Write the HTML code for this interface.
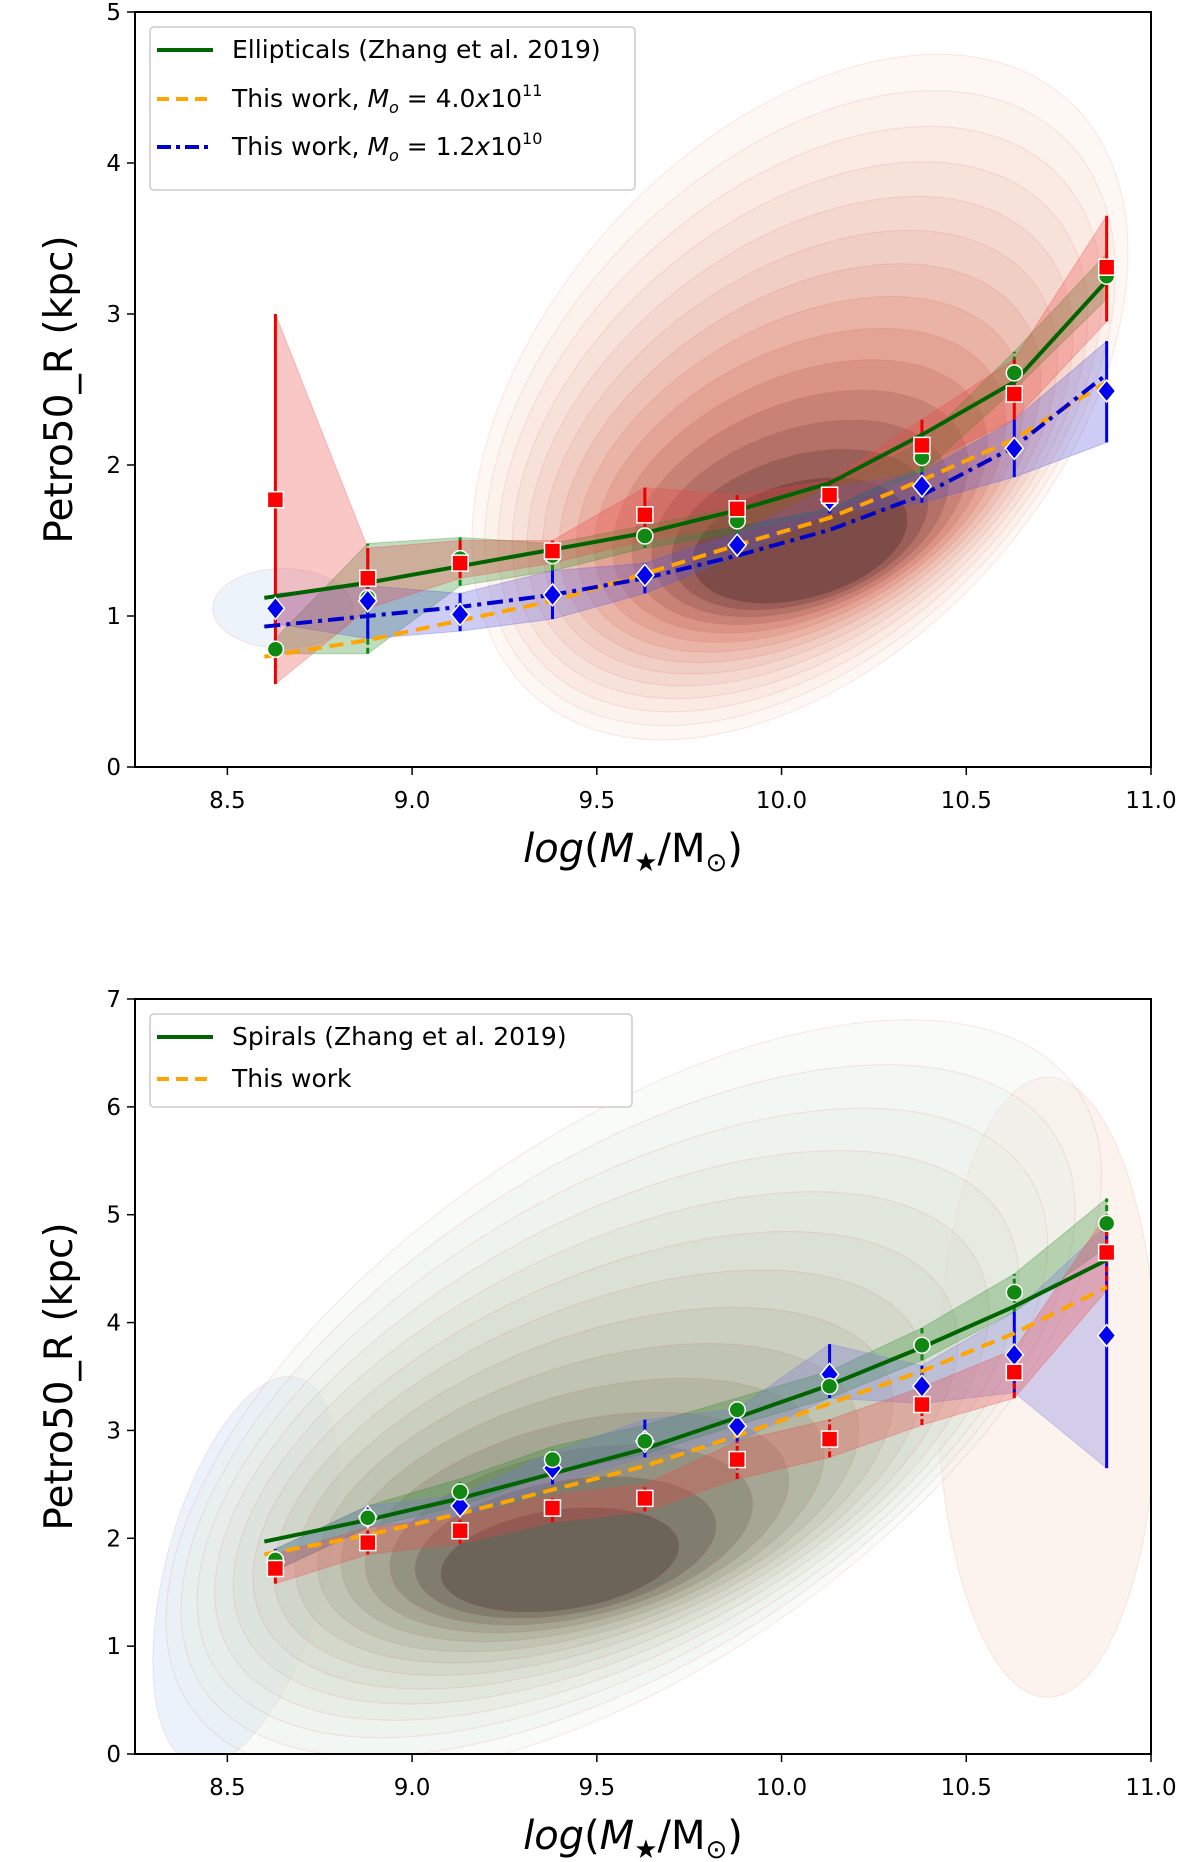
<!DOCTYPE html>
<html><head><meta charset="utf-8">
<style>
html,body{margin:0;padding:0;background:#fff;}
svg{display:block;font-family:"DejaVu Sans","Liberation Sans",sans-serif;}
</style></head>
<body>
<svg id="fig" width="1200" height="1862" viewBox="0 0 1200 1862" xmlns="http://www.w3.org/2000/svg">
<defs>
<clipPath id="clipTop"><rect x="135" y="12" width="1016" height="755"/></clipPath>
<clipPath id="clipBot"><rect x="135" y="999" width="1016" height="755"/></clipPath>
</defs>
<g id="top"></g>
<g id="bot"></g>
</svg>
<script>
// ---------- shared x data ----------
const xBins = [8.63, 8.88, 9.13, 9.38, 9.63, 9.88, 10.13, 10.38, 10.63, 10.88];
const xTicks = [8.5, 9.0, 9.5, 10.0, 10.5, 11.0];
const xTickLabels = ["8.5", "9.0", "9.5", "10.0", "10.5", "11.0"];
// ---------- top panel (ellipticals) ----------
const topYTicks = [0, 1, 2, 3, 4, 5];
const topLineX = [8.6, 8.88, 9.13, 9.38, 9.63, 9.88, 10.13, 10.38, 10.63, 10.88];
const topZhang = [1.12, 1.22, 1.33, 1.44, 1.55, 1.70, 1.88, 2.20, 2.55, 3.22];
const topWorkA = [0.73, 0.84, 0.97, 1.10, 1.28, 1.47, 1.65, 1.90, 2.17, 2.55];
const topWorkB = [0.93, 1.00, 1.06, 1.14, 1.25, 1.40, 1.57, 1.80, 2.12, 2.60];
const topRed = [1.77, 1.25, 1.35, 1.43, 1.67, 1.71, 1.80, 2.13, 2.47, 3.31];
const topRedLo = [0.55, 1.05, 1.25, 1.35, 1.50, 1.60, 1.72, 2.00, 2.30, 2.95];
const topRedHi = [3.00, 1.45, 1.50, 1.50, 1.85, 1.80, 1.90, 2.30, 2.70, 3.65];
const topGreen = [0.78, 1.12, 1.38, 1.40, 1.53, 1.63, 1.77, 2.05, 2.61, 3.25];
const topGreenLo = [0.75, 0.75, 1.20, 1.30, 1.45, 1.55, 1.70, 1.95, 2.50, 3.10];
const topGreenHi = [0.85, 1.48, 1.52, 1.48, 1.60, 1.72, 1.85, 2.15, 2.75, 3.40];
const topBlue = [1.05, 1.10, 1.01, 1.14, 1.27, 1.47, 1.77, 1.86, 2.11, 2.49];
const topBlueLo = [0.95, 0.85, 0.90, 0.98, 1.15, 1.40, 1.68, 1.75, 1.92, 2.15];
const topBlueHi = [1.15, 1.20, 1.15, 1.30, 1.35, 1.55, 1.85, 1.95, 2.30, 2.82];
// ---------- bottom panel (spirals) ----------
const botYTicks = [0, 1, 2, 3, 4, 5, 6, 7];
const botLineX = [8.6, 8.88, 9.13, 9.38, 9.63, 9.88, 10.13, 10.38, 10.63, 10.88];
const botZhang = [1.97, 2.17, 2.37, 2.60, 2.83, 3.12, 3.42, 3.77, 4.15, 4.58];
const botWork = [1.85, 2.03, 2.23, 2.45, 2.67, 2.95, 3.25, 3.55, 3.90, 4.33];
const botRed = [1.72, 1.96, 2.07, 2.28, 2.37, 2.73, 2.92, 3.24, 3.54, 4.65];
const botRedLo = [1.58, 1.85, 1.95, 2.15, 2.25, 2.55, 2.75, 3.05, 3.30, 4.30];
const botRedHi = [1.85, 2.10, 2.20, 2.40, 2.50, 2.90, 3.10, 3.40, 3.75, 5.00];
const botGreen = [1.80, 2.19, 2.43, 2.73, 2.90, 3.19, 3.41, 3.79, 4.28, 4.92];
const botGreenLo = [1.70, 2.10, 2.30, 2.60, 2.78, 3.05, 3.30, 3.65, 4.10, 4.70];
const botGreenHi = [1.90, 2.30, 2.55, 2.85, 3.05, 3.30, 3.55, 3.95, 4.45, 5.15];
const botBlue = [1.78, 2.20, 2.30, 2.65, 2.90, 3.04, 3.52, 3.41, 3.70, 3.88];
const botBlueLo = [1.70, 2.10, 2.20, 2.50, 2.75, 2.90, 3.30, 3.25, 3.35, 2.65];
const botBlueHi = [1.90, 2.30, 2.40, 2.80, 3.10, 3.20, 3.80, 3.60, 4.10, 4.90];

const NS = "http://www.w3.org/2000/svg";
function mk(tag, attrs, parent) {
  const e = document.createElementNS(NS, tag);
  for (const k in attrs) e.setAttribute(k, attrs[k]);
  parent.appendChild(e);
  return e;
}
const X0 = 135, X1 = 1151, XMIN = 8.25, XMAX = 11.0;
function sx(v) { return X0 + (v - XMIN) / (XMAX - XMIN) * (X1 - X0); }
function makeSY(top, bot, ymax) { return v => bot - v / ymax * (bot - top); }

function lerp(a, b, t) { return a + (b - a) * t; }
function color3(c1, cm, c2, t) {
  const a = t < 0.5 ? c1 : cm, b = t < 0.5 ? cm : c2, u = t < 0.5 ? t * 2 : (t - 0.5) * 2;
  return `rgb(${Math.round(lerp(a[0], b[0], u))},${Math.round(lerp(a[1], b[1], u))},${Math.round(lerp(a[2], b[2], u))})`;
}
function drawDensity(g, sy, outer, inner, cOut, cMid, cIn, n, op) {
  for (let i = 0; i < n; i++) {
    const t = n > 1 ? i / (n - 1) : 0;
    const tc = Math.pow(t, 1.5);
    const cx = sx(lerp(outer[0], inner[0], t)), cy = sy(lerp(outer[1], inner[1], t));
    const rx = lerp(outer[2], inner[2], t), ry = lerp(outer[3], inner[3], t), ang = lerp(outer[4], inner[4], t);
    const e = mk("ellipse", { cx: cx, cy: cy, rx: rx, ry: ry, transform: `rotate(${ang} ${cx} ${cy})`,
      fill: color3(cOut, cMid, cIn, tc), "fill-opacity": op, stroke: "rgb(220,60,50)", "stroke-opacity": 0.12 }, g);
    
    
  }
}
function band(g, lo, hi, color, op) {
  let d = "";
  xBins.forEach((x, i) => { d += (i ? "L" : "M") + sx(x) + "," + g.sy(hi[i]); });
  for (let i = xBins.length - 1; i >= 0; i--) d += "L" + sx(xBins[i]) + "," + g.sy(lo[i]);
  const p = mk("path", { d: d + "Z", fill: color, "fill-opacity": op, stroke: color, "stroke-opacity": 0.3 }, g.el);
  
  
}
function line(g, xs, ys, color, dash, w, name) {
  const pts = xs.map((x, i) => sx(x) + "," + g.sy(ys[i])).join(" ");
  const p = mk("polyline", { points: pts, fill: "none", stroke: color, "stroke-width": w, "stroke-dasharray": dash }, g.el);
  
  
}
function errbars(g, lo, hi, color, dash) {
  xBins.forEach((x, i) => {
    const l = mk("line", { x1: sx(x), x2: sx(x), y1: g.sy(lo[i]), y2: g.sy(hi[i]), stroke: color, "stroke-width": 3, "stroke-dasharray": dash }, g.el);
    
    
  });
}
function markers(g, ys, kind) {
  xBins.forEach((x, i) => {
    const cx = sx(x), cy = g.sy(ys[i]);
    let m;
    if (kind === "square") m = mk("rect", { x: cx - 8, y: cy - 8, width: 16, height: 16, fill: "#f00", stroke: "#fff", "stroke-width": 1.5 }, g.el);
    else if (kind === "circle") m = mk("circle", { cx: cx, cy: cy, r: 8, fill: "#118811", stroke: "#fff", "stroke-width": 1.5 }, g.el);
    else m = mk("polygon", { points: `${cx},${cy - 11} ${cx + 9},${cy} ${cx},${cy + 11} ${cx - 9},${cy}`, fill: "#0000ee", stroke: "#fff", "stroke-width": 1.5 }, g.el);
    
    
  });
}
function axes(root, top, bot, yTicks, sy) {
  const fr = mk("rect", { x: X0, y: top, width: X1 - X0, height: bot - top, fill: "none", stroke: "#000", "stroke-width": 2 }, root);
  
  
  xTicks.forEach((v, i) => {
    const x = sx(v);
    const t = mk("line", { x1: x, x2: x, y1: bot, y2: bot + 8, stroke: "#000", "stroke-width": 1.5 }, root);
    
    
    const tx = mk("text", { x: x, y: bot + 41, "text-anchor": "middle", "font-size": 23 }, root);
    tx.textContent = xTickLabels[i];
    
    
  });
  yTicks.forEach(v => {
    const y = sy(v);
    const t = mk("line", { x1: X0 - 8, x2: X0, y1: y, y2: y, stroke: "#000", "stroke-width": 1.5 }, root);
    
    
    const tx = mk("text", { x: X0 - 14, y: y + 8, "text-anchor": "end", "font-size": 23 }, root);
    tx.textContent = String(v);
    
    
  });
  const mid = (top + bot) / 2;
  const yl = mk("text", { x: 0, y: 0, transform: `translate(72 ${mid}) rotate(-90)`, "text-anchor": "middle", "font-size": 39 }, root);
  yl.textContent = "Petro50_R (kpc)";
  
  
  const xl = mk("text", { x: 633, y: bot + 95, "text-anchor": "middle", "font-size": 40 }, root);
  xl.innerHTML = '<tspan font-style="italic">log</tspan>(<tspan font-style="italic">M</tspan><tspan font-size="26" dy="9">★</tspan><tspan dy="-9">/M</tspan><tspan font-size="26" dy="9">⊙</tspan><tspan dy="-9">)</tspan>';
  
  
}
function legend(root, x, y, w, h, entries) {
  const g = mk("g", {}, root);
  
  
  mk("rect", { x: x, y: y, width: w, height: h, rx: 4, fill: "#fff", "fill-opacity": 0.85, stroke: "#ccc", "stroke-width": 1.5 }, g);
  entries.forEach(en => {
    const l = mk("line", { x1: 157, x2: 213, y1: en.y - 8, y2: en.y - 8, stroke: en.color, "stroke-width": 4, "stroke-dasharray": en.dash }, g);
    
    
    const t = mk("text", { x: 232, y: en.y, "font-size": 25 }, g);
    t.innerHTML = en.html;
    
    
  });
}

// ===== TOP =====
(function () {
  const root = document.getElementById("top");
  const sy = makeSY(12, 767, 5);
  const plot = mk("g", { "clip-path": "url(#clipTop)" }, root);
  const g = { el: plot, sy: sy };
  drawDensity(plot, sy, [8.65, 1.05, 70, 40, 0], [8.65, 1.05, 70, 40, 0], [225, 235, 248], [225, 235, 248], [225, 235, 248], 1, 0.6);
  drawDensity(plot, sy, [10.05, 2.45, 400, 255, -48], [10.05, 1.5, 110, 58, -15], [250, 230, 218], [215, 120, 105], [55, 28, 32], 14, 0.28);
  band(g, topGreenLo, topGreenHi, "#2a8a2a", 0.3);
  band(g, topBlueLo, topBlueHi, "#5555dd", 0.3);
  band(g, topRedLo, topRedHi, "#ee4444", 0.3);
  errbars(g, topGreenLo, topGreenHi, "#118811", "6,3");
  errbars(g, topBlueLo, topBlueHi, "#0000ee", "");
  errbars(g, topRedLo, topRedHi, "#ee0000", "");
  line(g, topLineX, topWorkA, "#ffa500", "14,8", 4, "this-work-line-4e11");
  line(g, topLineX, topWorkB, "#0000cc", "16,6,4,6", 4, "this-work-line-1.2e10");
  line(g, topLineX, topZhang, "#006400", "", 4, "zhang-ellipticals-line");
  markers(g, topGreen, "circle");
  markers(g, topBlue, "diamond");
  markers(g, topRed, "square");
  axes(root, 12, 767, topYTicks, sy);
  legend(root, 150, 27, 485, 163, [
    { y: 58, color: "#006400", dash: "", html: "Ellipticals (Zhang et al. 2019)" },
    { y: 107, color: "#ffa500", dash: "12,7", html: 'This work, <tspan font-style="italic">M</tspan><tspan font-style="italic" font-size="16" dy="6">o</tspan><tspan dy="-6"> = 4.0</tspan><tspan font-style="italic">x</tspan>10<tspan font-size="16" dy="-11">11</tspan>' },
    { y: 155, color: "#0000cc", dash: "14,5,4,5", html: 'This work, <tspan font-style="italic">M</tspan><tspan font-style="italic" font-size="16" dy="6">o</tspan><tspan dy="-6"> = 1.2</tspan><tspan font-style="italic">x</tspan>10<tspan font-size="16" dy="-11">10</tspan>' }
  ]);
})();

// ===== BOTTOM =====
(function () {
  const root = document.getElementById("bot");
  const sy = makeSY(999, 1754, 7);
  const plot = mk("g", { "clip-path": "url(#clipBot)" }, root);
  const g = { el: plot, sy: sy };
  drawDensity(plot, sy, [8.55, 1.7, 80, 200, 15], [8.55, 1.7, 80, 200, 15], [222, 234, 248], [222, 234, 248], [222, 234, 248], 1, 0.6);
  drawDensity(plot, sy, [10.72, 3.4, 110, 310, 0], [10.72, 3.4, 110, 310, 0], [250, 234, 224], [250, 234, 224], [250, 234, 224], 1, 0.55);
  drawDensity(plot, sy, [9.6, 3.3, 540, 265, -35], [9.4, 1.8, 120, 50, -8], [232, 240, 232], [165, 165, 140], [50, 32, 32], 14, 0.26);
  band(g, botGreenLo, botGreenHi, "#2a8a2a", 0.3);
  band(g, botBlueLo, botBlueHi, "#7777dd", 0.3);
  band(g, botRedLo, botRedHi, "#ee4444", 0.3);
  errbars(g, botGreenLo, botGreenHi, "#118811", "6,3");
  errbars(g, botBlueLo, botBlueHi, "#0000ee", "");
  errbars(g, botRedLo, botRedHi, "#ee0000", "6,3");
  line(g, botLineX, botWork, "#ffa500", "14,8", 4, "this-work-line");
  line(g, botLineX, botZhang, "#006400", "", 4, "zhang-spirals-line");
  markers(g, botBlue, "diamond");
  markers(g, botGreen, "circle");
  markers(g, botRed, "square");
  axes(root, 999, 1754, botYTicks, sy);
  legend(root, 150, 1014, 482, 93, [
    { y: 1045, color: "#006400", dash: "", html: "Spirals (Zhang et al. 2019)" },
    { y: 1087, color: "#ffa500", dash: "12,7", html: "This work" }
  ]);
})();
</script>
</body></html>
